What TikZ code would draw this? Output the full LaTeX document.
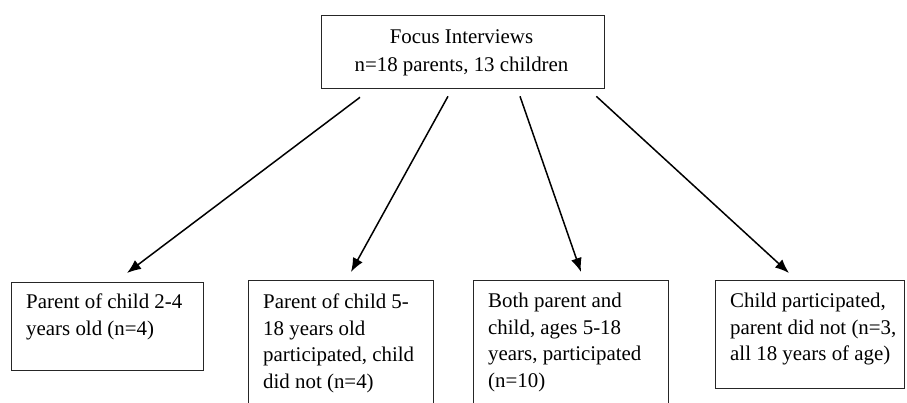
\documentclass[tikz,border=0pt]{standalone}
\usepackage{fontspec}
\setmainfont{Liberation Serif}
\usetikzlibrary{calc,arrows.meta}
\begin{document}
\begin{tikzpicture}[x=1pt,y=-1pt,
  boxshape/.style={draw=black!85,line width=1.3pt,rectangle,inner sep=0pt,anchor=north west},
  boxtext/.style={anchor=north west,inner sep=0pt,align=left,font=\fontsize{20.9}{26.7}\selectfont},
  toptext/.style={anchor=north,inner sep=0pt,align=center,font=\fontsize{20.9}{28.5}\selectfont},
  conn/.style={line width=1.5pt,-{Latex[length=14pt,width=11pt]}}]
\clip (0,0) rectangle (907,402);
\fill[white] (0,0) rectangle (907,402);
% boxes
\node[boxshape,minimum width=283pt,minimum height=73pt] (top) at (321,15) {};
\node[boxshape,minimum width=192pt,minimum height=88pt] (b1) at (11,282) {};
\node[boxshape,minimum width=185pt,minimum height=140pt] (b2) at (248,280) {};
\node[boxshape,minimum width=195pt,minimum height=140pt] (b3) at (473,280) {};
\node[boxshape,minimum width=189pt,minimum height=108pt] (b4) at (715,280) {};
% texts
\node[toptext] (tt) at (461.5,23.0) {\strut Focus Interviews\\ n=18 parents, 13 children};
\node[boxtext] (t1) at (26,289.6) {\strut Parent of child 2-4\\ years old (n=4)};
\node[boxtext] (t2) at (263,289.6) {\strut Parent of child 5-\\ 18 years old\\ participated, child\\ did not (n=4)};
\node[boxtext] (t3) at (488,288.6) {\strut Both parent and\\ child, ages 5-18\\ years, participated\\ (n=10)};
\node[boxtext] (t4) at (730,288.6) {\strut Child participated,\\ parent did not (n=3,\\ all 18 years of age)};
% connectors
\draw[conn] ($(top.south west)+(39,8)$) -- ($(b1.north west)+(116,-9)$);
\draw[conn] ($(top.south west)+(127,7)$) -- ($(b2.north west)+(103,-8)$);
\draw[conn] ($(top.south west)+(199,7)$) -- ($(b3.north west)+(108,-8)$);
\draw[conn] ($(top.south east)+(-9,7)$) -- ($(b4.north west)+(74,-7)$);
\end{tikzpicture}
\end{document}
